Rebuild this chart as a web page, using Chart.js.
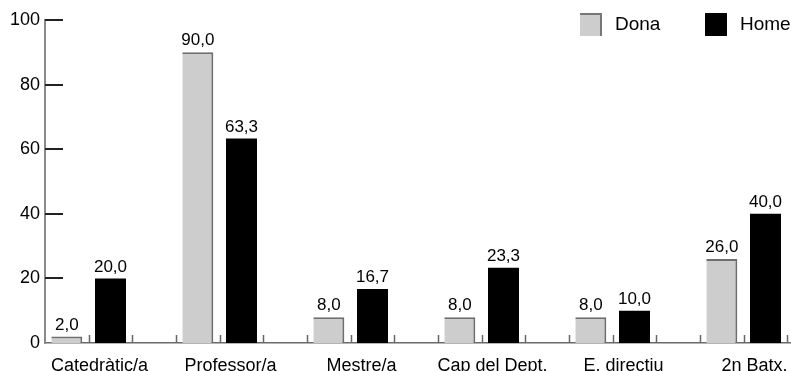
<!DOCTYPE html>
<html>
<head>
<meta charset="utf-8">
<script src="https://cdn.jsdelivr.net/npm/chart.js@4"></script>
<style>
  html, body { margin: 0; padding: 0; overflow: hidden; background: #fff; }
  #wrap { width: 835px; height: 380px; }
</style>
</head>
<body>
<div id="wrap"><canvas id="myChart"></canvas></div>
<script>
// càrrecs i percentatges per sexe
var carrecs = ['Catedràtic/a', 'Professor/a', 'Mestre/a', 'Cap del Dept.', 'E. directiu', '2n Batx.'];
var dona = [2.0, 90.0, 8.0, 8.0, 8.0, 26.0];
var home = [20.0, 63.3, 16.7, 23.3, 10.0, 40.0];
var yTicks = [0, 20, 40, 60, 80, 100];

Chart.defaults.font.family = '"Liberation Sans", Arial, sans-serif';
Chart.defaults.color = '#000';

var extras = {
  id: 'extras',
  afterDatasetsDraw: function(chart) {
    var ctx = chart.ctx;
    var xs = chart.scales.x, ys = chart.scales.y;
    var area = chart.chartArea;
    ctx.save();

    // marques de l'eix Y cap a dins
    ctx.strokeStyle = '#222';
    ctx.lineWidth = 2;
    yTicks.forEach(function(t) {
      if (t === 0) return;
      var py = Math.round(ys.getPixelForValue(t));
      ctx.beginPath();
      ctx.moveTo(area.left, py);
      ctx.lineTo(area.left + 18, py);
      ctx.stroke();
    });

    // petites marques a l'eix X, tres per categoria
    var w = xs.getPixelForValue(1) - xs.getPixelForValue(0);
    ctx.strokeStyle = '#666';
    ctx.lineWidth = 1.5;
    for (var i = 0; i < carrecs.length; i++) {
      var left = xs.getPixelForValue(i) - w / 2;
      for (var k = 0; k < 3; k++) {
        var px = Math.round(left + k * w / 3) + 0.5;
        if (px <= area.left + 2) continue;
        ctx.beginPath();
        ctx.moveTo(px, area.bottom);
        ctx.lineTo(px, area.bottom - 8);
        ctx.stroke();
      }
    }

    // valors damunt les barres
    ctx.fillStyle = '#000';
    ctx.font = '17px "Liberation Sans", Arial, sans-serif';
    ctx.textAlign = 'center';
    ctx.textBaseline = 'bottom';
    [0, 1].forEach(function(di) {
      var meta = chart.getDatasetMeta(di);
      meta.data.forEach(function(bar, j) {
        var v = chart.data.datasets[di].data[j];
        ctx.fillText(v.toFixed(1).replace('.', ','), bar.x, bar.y - 3);
      });
    });

    // llegenda
    ctx.font = '19px "Liberation Sans", Arial, sans-serif';
    ctx.textAlign = 'left';
    ctx.textBaseline = 'middle';
    var lx = [580, 705];
    [0, 1].forEach(function(di) {
      var ds = chart.data.datasets[di];
      ctx.fillStyle = ds.backgroundColor;
      ctx.fillRect(lx[di], 13, 22, 23);
      ctx.strokeStyle = di === 0 ? '#777' : '#000';
      ctx.lineWidth = 2;
      ctx.beginPath();
      ctx.moveTo(lx[di], 14);
      ctx.lineTo(lx[di] + 21, 14);
      ctx.lineTo(lx[di] + 21, 36);
      ctx.stroke();
      ctx.fillStyle = '#000';
      ctx.fillText(ds.label, lx[di] + 35, 25);
    });
    ctx.restore();
  }
};

var chartContainer = document.getElementById('myChart');
var myChart = new Chart(chartContainer, {
  type: 'bar',
  data: {
    labels: carrecs,
    datasets: [{
      label: 'Dona',
      data: dona,
      backgroundColor: '#cdcdcd',
      borderColor: '#6e6e6e',
      borderWidth: {top: 2, right: 2, left: 0, bottom: 0},
      borderSkipped: false
    }, {
      label: 'Home',
      data: home,
      backgroundColor: '#000000',
      borderWidth: 0
    }, {
      label: '',
      data: carrecs.map(function() { return null; }),
      backgroundColor: 'rgba(0,0,0,0)'
    }]
  },
  options: {
    responsive: true,
    maintainAspectRatio: false,
    animation: false,
    layout: { padding: { top: 20, right: 4, left: 0, bottom: 0 } },
    categoryPercentage: 1,
    barPercentage: 0.71,
    plugins: {
      legend: { display: false },
      tooltip: { enabled: false }
    },
    scales: {
      x: {
        grid: { display: false, drawTicks: false },
        border: { display: true, color: '#6a6a6a', width: 1.5 },
        ticks: {
          font: { size: 18 },
          color: '#000',
          labelOffset: -11,
          padding: 12,
          maxRotation: 0,
          autoSkip: false
        },
        afterFit: function(scale) { scale.height = 37; }
      },
      y: {
        min: 0,
        max: 100,
        grid: { display: false, drawTicks: false },
        border: { display: true, color: '#8a8a8a', width: 2 },
        ticks: {
          stepSize: 20,
          font: { size: 18 },
          color: '#000',
          padding: 5
        },
        afterFit: function(scale) { scale.width = 45; }
      }
    }
  },
  plugins: [extras]
});
</script>
</body>
</html>
